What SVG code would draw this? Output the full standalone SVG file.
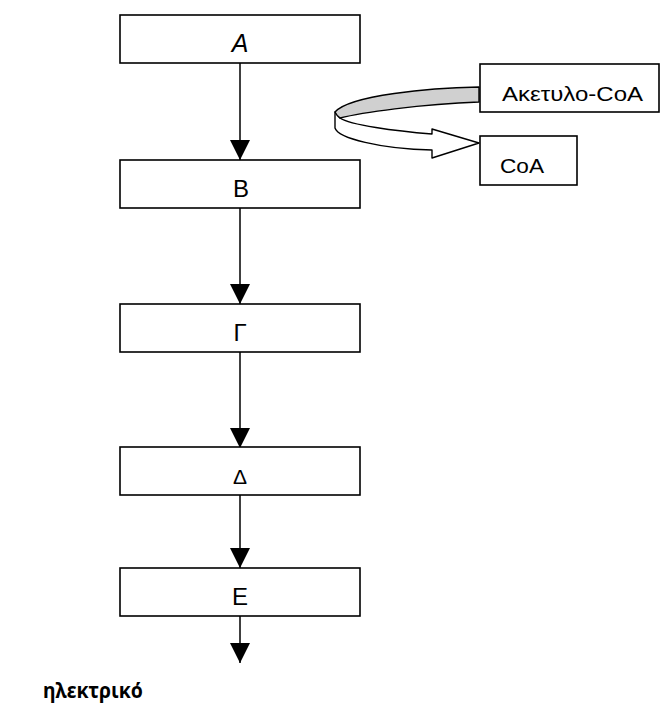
<svg xmlns="http://www.w3.org/2000/svg" width="664" height="705" viewBox="0 0 664 705">
  <defs>
    <marker id="ah" markerUnits="userSpaceOnUse" markerWidth="20" markerHeight="20" refX="20" refY="10" orient="auto" viewBox="0 0 20 20">
      <path d="M0,0 L20,10 L0,20 Z" fill="#000"/>
    </marker>
    <style>
      .box { fill: #fff; stroke: #000; stroke-width: 1.6; }
      .lbl { font-family: "Liberation Sans", "DejaVu Sans", sans-serif; font-size: 24px; text-anchor: middle; fill: #000; }
      .side { font-family: "Liberation Sans", "DejaVu Sans", sans-serif; font-size: 21px; fill: #000; }
      .conn { stroke: #000; stroke-width: 1.5; fill: none; marker-end: url(#ah); }
      .rib { stroke: #000; stroke-width: 1.4; stroke-linejoin: round; }
    </style>
  </defs>
  <rect width="664" height="705" fill="#fff"/>

  <g id="connectors">
    <line class="conn" x1="240" y1="63" x2="240" y2="160"/>
    <line class="conn" x1="240" y1="208" x2="240" y2="304"/>
    <line class="conn" x1="240" y1="352" x2="240" y2="448"/>
    <line class="conn" x1="240" y1="495" x2="240" y2="568"/>
    <line class="conn" x1="240" y1="616" x2="240" y2="663"/>
    <g id="ribbon-arrow">
      <path class="rib" fill="#fff" d="M335,112 L335,128 C338,138 380,149 432,150 L432,158 L479,143 L432,129 L432,134 C395,131 350,125 340,118 Z"/>
      <path class="rib" fill="#d0d0d0" d="M479,87 C430,88 350,95 335,112 C337,116 338,117 340,118 C360,113 420,104 479,102 Z"/>
    </g>
  </g>

  <g id="node-A">
    <rect class="box" x="120" y="15" width="240" height="48"/>
    <text class="lbl" x="240" y="52" style="font-style:italic;font-size:25px">A</text>
  </g>
  <g id="node-B">
    <rect class="box" x="120" y="160" width="240" height="48"/>
    <text class="lbl" x="241" y="197">B</text>
  </g>
  <g id="node-G">
    <rect class="box" x="120" y="304" width="240" height="48"/>
    <text class="lbl" x="240" y="341">Γ</text>
  </g>
  <g id="node-D">
    <rect class="box" x="120" y="447" width="240" height="48"/>
    <text class="lbl" x="240" y="484" style="font-size:21px">Δ</text>
  </g>
  <g id="node-E">
    <rect class="box" x="120" y="568" width="240" height="48"/>
    <text class="lbl" x="240" y="605">Ε</text>
  </g>
  <g id="node-acetyl">
    <rect class="box" x="480" y="64" width="179" height="48"/>
    <text class="side" x="502" y="101" textLength="141" lengthAdjust="spacingAndGlyphs">Ακετυλο-CoA</text>
  </g>
  <g id="node-coa">
    <rect class="box" x="480" y="136" width="97" height="49"/>
    <text class="side" x="500" y="173" textLength="44" lengthAdjust="spacingAndGlyphs">CoA</text>
  </g>
  <g id="label-ilektriko">
    <text x="43" y="698" font-family="'Noto Sans', 'Open Sans', sans-serif" font-weight="bold" font-size="22" fill="#000" textLength="100" lengthAdjust="spacingAndGlyphs">ηλεκτρικό</text>
  </g>
</svg>
